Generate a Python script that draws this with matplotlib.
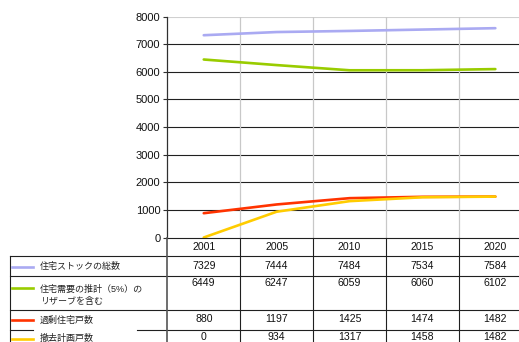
import matplotlib
matplotlib.use("Agg")
import matplotlib.pyplot as plt
import matplotlib.transforms as mtrans

plt.rcParams['font.family'] = ['Liberation Sans', 'Noto Sans CJK JP', 'DejaVu Sans']

years = ['2001', '2005', '2010', '2015', '2020']
labels = ['住宅ストックの総数', '住宅需要の推計（5%）の\nリザーブを含む', '過剰住宅戸数', '撤去計画戸数']
stock = [7329, 7444, 7484, 7534, 7584]
demand = [6449, 6247, 6059, 6060, 6102]
excess = [880, 1197, 1425, 1474, 1482]
demolish = [0, 934, 1317, 1458, 1482]
series = [stock, demand, excess, demolish]
colors = ['#aaaaf2', '#99cc00', '#ff3300', '#ffcc00']

W, H = 519, 342
fig = plt.figure(figsize=(W / 100, H / 100), dpi=100)

def fy(py):
    # pixel row from top -> figure fraction
    return 1 - py / H

def fx(px):
    return px / W

ax = fig.add_axes([fx(167.3), fy(237.5), 364.5 / W, (237.5 - 16.7) / H])
x = list(range(len(years)))

# grid
for v in range(1000, 8000, 1000):
    ax.axhline(v, color='#202020', lw=0.8, zorder=1)
ax.axhline(8000, color='#d0d0d0', lw=0.8, zorder=1)
for b in range(len(years) - 1):
    ax.axvline(b + 0.5, color='#c8c8c8', lw=0.9, zorder=1)

for s, c in zip(series, colors):
    ax.plot(x, s, color=c, lw=1.9, zorder=3, solid_capstyle='round')

ax.set_xlim(-0.5, len(years) - 0.5)
ax.set_ylim(0, 8000)
ax.set_yticks(range(0, 8001, 1000))
ax.set_xticks([])
for sp in ['top', 'right', 'bottom']:
    ax.spines[sp].set_visible(False)
ax.spines['left'].set_color('#303030')
ax.spines['left'].set_linewidth(0.9)
ax.tick_params(axis='y', length=3, width=0.8, color='#303030', labelsize=8, labelcolor='#111111', pad=2)

# data table under the plot
tr = mtrans.blended_transform_factory(ax.transData, fig.transFigure)
lc = '#202020'
num_fs = 7.6
cjk_fs = 6.5

# header row
for i, y in enumerate(years):
    fig.text(i, fy(246.5), y, transform=tr, ha='center', va='center', fontsize=num_fs, color='#111111')

# horizontal lines
for py in [256, 276, 310]:
    fig.add_artist(plt.Line2D([fx(10), 1], [fy(py), fy(py)], color=lc, lw=0.8))
fig.add_artist(plt.Line2D([fx(167.3), 1], [fy(237.5), fy(237.5)], color=lc, lw=0.8))
fig.add_artist(plt.Line2D([fx(137), 1], [fy(329.5), fy(329.5)], color=lc, lw=0.8))
fig.add_artist(plt.Line2D([fx(10), fx(33)], [fy(329.5), fy(329.5)], color=lc, lw=0.8))

# vertical lines
fig.add_artist(plt.Line2D([fx(10), fx(10)], [fy(256), 0], color=lc, lw=0.8))
fig.add_artist(plt.Line2D([fx(167.3), fx(167.3)], [fy(237.5), 0], color='#555555', lw=1.2))
for b in range(len(years) - 1):
    fig.add_artist(plt.Line2D([b + 0.5, b + 0.5], [fy(237.5), 0], transform=tr, color=lc, lw=0.8))

# rows: legend key, label, values
key_y = [267, 287.5, 320, 339]
lab_y = [267, 295, 320, 338]
val_y = [266, 283, 319.5, 337.5]
for r, (lab, s, c) in enumerate(zip(labels, series, colors)):
    fig.add_artist(plt.Line2D([fx(12), fx(33)], [fy(key_y[r]), fy(key_y[r])], color=c, lw=1.9))
    fig.text(fx(40), fy(lab_y[r]), lab, ha='left', va='center', fontsize=cjk_fs, color='#222222', linespacing=1.45)
    for i, v in enumerate(s):
        fig.text(i, fy(val_y[r]), str(v), transform=tr, ha='center', va='center', fontsize=num_fs, color='#111111')

fig.savefig('out.png', dpi=100)
